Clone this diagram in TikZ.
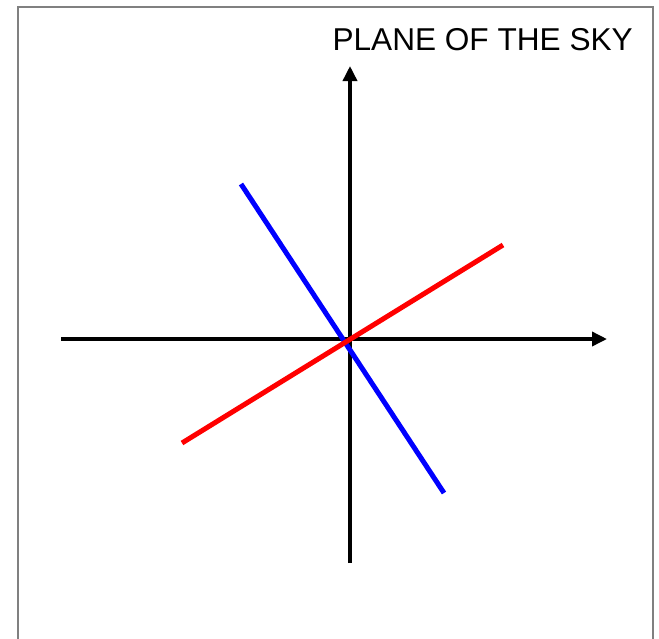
\documentclass[tikz,border=0pt]{standalone}
\usepackage{fontspec}
\setmainfont{Liberation Sans}
\usetikzlibrary{arrows.meta}
\definecolor{skygray}{RGB}{128,128,128}
\definecolor{skyblue}{RGB}{0,0,255}
\definecolor{skyred}{RGB}{255,0,0}

\begin{document}
\begin{tikzpicture}[x=1pt, y=-1pt,
    axis/.style={line width=3.5pt, -{Triangle[length=15pt, width=14pt]}},
    orbit/.style={line width=5pt}]
		\useasboundingbox (0,0) rectangle (659,638);
		% open frame
		\draw[skygray, line width=2pt] (18,640) -- (18,7) -- (653,7) -- (653,640);
		% axes
		\coordinate (west) at (61,339);
		\coordinate (east) at (607,339);
		\coordinate (south) at (350,563);
		\coordinate (north) at (350,66);
		\draw[axis] (west) -- (east);
		\draw[axis] (south) -- (north);
		\node[anchor=base east, inner sep=0pt, font=\fontsize{31.6}{34}\selectfont] (sky) at (633,50) {PLANE OF THE SKY};
		% lines through the centre
		\coordinate (b1) at (241,184);
		\coordinate (b2) at (444,493);
		\coordinate (r1) at (182,443);
		\coordinate (r2) at (503,245);
		\draw[orbit, skyblue] (b1) -- (b2);
		\draw[orbit, skyred] (r1) -- (r2);
	\end{tikzpicture}
\end{document}
